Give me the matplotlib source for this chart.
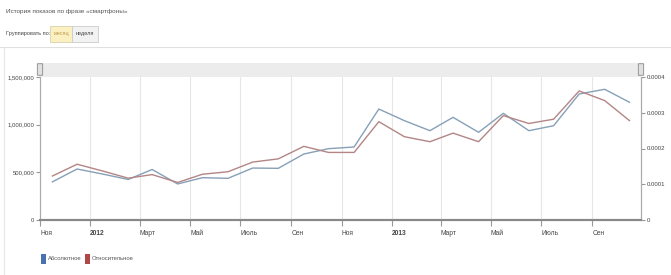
import matplotlib
matplotlib.use("Agg")
import matplotlib.pyplot as plt
from matplotlib.patches import Rectangle, FancyBboxPatch
import datetime as dt

plt.rcParams['font.family'] = ['Liberation Sans', 'DejaVu Sans']

# ---- data ----
months = ["2011-11", "2011-12", "2012-01", "2012-02", "2012-03", "2012-04",
          "2012-05", "2012-06", "2012-07", "2012-08", "2012-09", "2012-10",
          "2012-11", "2012-12", "2013-01", "2013-02", "2013-03", "2013-04",
          "2013-05", "2013-06", "2013-07", "2013-08", "2013-09", "2013-10"]
absolute = [400000, 535000, 482000, 425000, 530000, 378000, 444000, 437000,
            545000, 542000, 692000, 748000, 766000, 1164000, 1042000, 937000,
            1077000, 920000, 1119000, 937000, 989000, 1322000, 1371000, 1235000]
relative = [0.000123, 0.000156, 0.000137, 0.000117, 0.000127, 0.000105,
            0.000128, 0.000135, 0.000162, 0.000171, 0.000206, 0.000189,
            0.000189, 0.000275, 0.000233, 0.000219, 0.000243, 0.000219,
            0.000292, 0.000270, 0.000282, 0.000361, 0.000334, 0.000278]
tick_dates = ["2011-11-01", "2012-01-01", "2012-03-01", "2012-05-01", "2012-07-01",
              "2012-09-01", "2012-11-01", "2013-01-01", "2013-03-01", "2013-05-01",
              "2013-07-01", "2013-09-01"]
tick_labels = ["Ноя", "2012", "Март", "Май", "Июль", "Сен",
               "Ноя", "2013", "Март", "Май", "Июль", "Сен"]
left_ticks = [0, 500000, 1000000, 1500000]
left_labels = ["0", "500,000", "1,000,000", "1,500,000"]
right_ticks = [0, 0.0001, 0.0002, 0.0003, 0.0004]
right_labels = ["0", "0.0001", "0.0002", "0.0003", "0.0004"]
title = "История показов по фразе «смартфоны»"
group_label = "Группировать по:"
btn_labels = ["месяц", "неделя"]
legend_labels = ["Абсолютное", "Относительное"]

W, H = 671, 275
fig = plt.figure(figsize=(W / 100, H / 100), dpi=100)
fig.patch.set_facecolor("white")

def fx(px):
    return px / W

def fy(py):
    return 1 - py / H

x_pts = [dt.datetime.strptime(m + "-16", "%Y-%m-%d") for m in months]
ticks = [dt.datetime.strptime(t, "%Y-%m-%d") for t in tick_dates]

ax = fig.add_axes([fx(40), fy(220), fx(601), 143 / H])
ax2 = ax.twinx()

blue_line = "#86a0b8"
red_line = "#b38585"
ax.plot(x_pts, absolute, color=blue_line, lw=1.0, zorder=3)
ax2.plot(x_pts, relative, color=red_line, lw=1.0, zorder=3)

ax.set_xlim(dt.datetime(2011, 11, 1), dt.datetime(2013, 10, 30))
ax.set_ylim(0, 1500000)
ax2.set_ylim(0, 0.0004)

ax.set_xticks(ticks)
ax.set_xticklabels(tick_labels)
for lbl, t in zip(ax.get_xticklabels(), tick_labels):
    lbl.set_horizontalalignment("left")
    if t.isdigit():
        lbl.set_fontweight("bold")
ax.tick_params(axis="x", length=4, width=0.8, color="#999999", labelsize=4.8,
               labelcolor="#444444", pad=3)
for x in ticks[1:]:
    ax.axvline(x, color="#e6e6e6", lw=0.8, zorder=1)

ax.set_yticks(left_ticks)
ax.set_yticklabels(left_labels)
ax.tick_params(axis="y", length=3, width=0.8, color="#999999", labelsize=4.3,
               labelcolor="#444444", pad=1)
ax2.set_yticks(right_ticks)
ax2.set_yticklabels(right_labels)
ax2.tick_params(axis="y", length=3, width=0.8, color="#999999", labelsize=4.3,
                labelcolor="#444444", pad=1)

for a in (ax, ax2):
    a.spines["top"].set_visible(False)
    a.spines["left"].set_color("#aaaaaa")
    a.spines["right"].set_color("#aaaaaa")
    a.spines["bottom"].set_color("#888888")
    a.spines["bottom"].set_linewidth(1.5)
    a.patch.set_visible(False)

# navigator band on top
fig.patches.append(Rectangle((fx(40), fy(77)), fx(601), 14 / H,
                             transform=fig.transFigure, facecolor="#ececec",
                             edgecolor="none", zorder=0))
for hx in (38, 639):
    fig.patches.append(FancyBboxPatch((fx(hx), fy(75)), fx(4), 11 / H,
                                      boxstyle="round,pad=0.001",
                                      transform=fig.transFigure,
                                      facecolor="#e0e0e0", edgecolor="#888888",
                                      lw=0.6, zorder=2))

# header
fig.text(fx(6), fy(12), title, fontsize=4.6, color="#555555", va="center", ha="left")
fig.text(fx(6), fy(34), group_label, fontsize=4.0, color="#444444", va="center", ha="left")
fig.patches.append(Rectangle((fx(50), fy(42)), fx(22), 16 / H, transform=fig.transFigure,
                             facecolor="#fbf0c0", edgecolor="#d8d0b0", lw=0.6))
fig.patches.append(Rectangle((fx(72), fy(42)), fx(26), 16 / H, transform=fig.transFigure,
                             facecolor="#f2f2f2", edgecolor="#cccccc", lw=0.6))
fig.text(fx(61), fy(34), btn_labels[0], fontsize=4.0, color="#c09a50", va="center", ha="center")
fig.text(fx(85), fy(34), btn_labels[1], fontsize=4.0, color="#444444", va="center", ha="center")
fig.add_artist(plt.Line2D([0, 1], [fy(47), fy(47)], transform=fig.transFigure,
                          color="#e0e0e0", lw=0.8))
fig.add_artist(plt.Line2D([fx(4), fx(4)], [fy(47), 0], transform=fig.transFigure,
                          color="#e6e6e6", lw=0.8))

# legend
fig.patches.append(Rectangle((fx(41), fy(264)), fx(5), 10 / H, transform=fig.transFigure,
                             facecolor="#4a72b0", edgecolor="none"))
fig.text(fx(48), fy(259), legend_labels[0], fontsize=4.2, color="#555555", va="center", ha="left")
fig.patches.append(Rectangle((fx(85), fy(264)), fx(5), 10 / H, transform=fig.transFigure,
                             facecolor="#b04848", edgecolor="none"))
fig.text(fx(92), fy(259), legend_labels[1], fontsize=4.2, color="#555555", va="center", ha="left")

fig.savefig("out.png", dpi=100)
